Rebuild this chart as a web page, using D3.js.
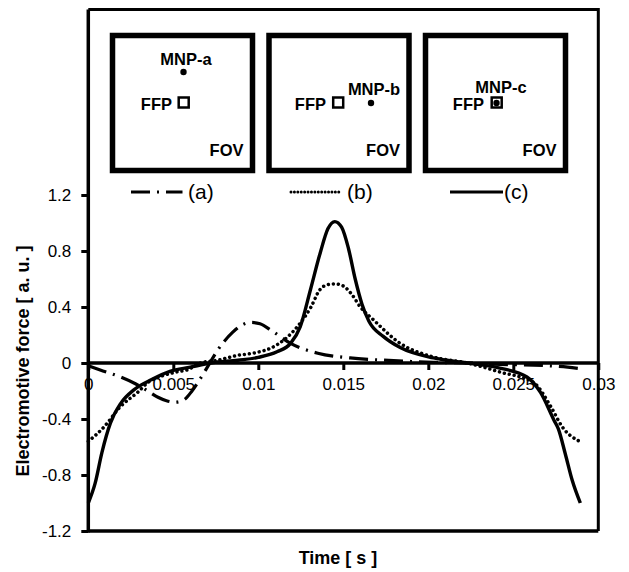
<!DOCTYPE html>
<html>
<head>
<meta charset="utf-8">
<script src="https://cdn.jsdelivr.net/npm/d3@7"></script>
<style>
  html, body { margin: 0; padding: 0; background: #fff; }
  svg { display: block; font-family: "Liberation Sans", Arial, sans-serif; }
</style>
</head>
<body>
<svg id="chart" width="629" height="572"></svg>
<script>
// Time samples [s] and electromotive force [a.u.] for the three MNP positions
const timeA = [0, 0.0007, 0.0019, 0.0028, 0.0035, 0.0041, 0.0046, 0.0051, 0.0056, 0.0061, 0.0066, 0.0071, 0.0076, 0.0085, 0.0091, 0.0096, 0.0101, 0.0108, 0.0119, 0.0135, 0.0154, 0.0174, 0.0203, 0.0223, 0.0242, 0.0262, 0.0282, 0.0289];
const emfA  = [-0.02, -0.05, -0.10, -0.15, -0.20, -0.245, -0.27, -0.28, -0.265, -0.20, -0.11, -0.01, 0.09, 0.22, 0.275, 0.29, 0.28, 0.23, 0.14, 0.07, 0.036, 0.02, 0.005, 0.0, -0.01, -0.015, -0.03, -0.04];

const timeB = [0, 0.0009, 0.0019, 0.0029, 0.0035, 0.0044, 0.0052, 0.0058, 0.0066, 0.0076, 0.0089, 0.0097, 0.0111, 0.0123, 0.0131, 0.0136, 0.0141, 0.01453, 0.0150, 0.0155, 0.0160, 0.01676, 0.01835, 0.0203, 0.0223, 0.0242, 0.0262, 0.0272, 0.0279, 0.0289];
const emfB  = [-0.56, -0.46, -0.31, -0.21, -0.14, -0.09, -0.064, -0.05, 0.0, 0.02, 0.057, 0.07, 0.13, 0.26, 0.40, 0.52, 0.56, 0.565, 0.55, 0.49, 0.40, 0.31, 0.14, 0.043, 0.0, -0.064, -0.14, -0.31, -0.46, -0.56];

const timeC = [0, 0.0004, 0.0008, 0.0013, 0.0019, 0.0027, 0.0037, 0.0048, 0.0060, 0.0072, 0.0088, 0.0100, 0.0111, 0.0119, 0.01247, 0.01306, 0.01365, 0.0141, 0.0145, 0.0149, 0.0153, 0.0157, 0.0161, 0.0165, 0.01735, 0.01835, 0.0203, 0.0223, 0.0242, 0.0258, 0.0266, 0.0274, 0.02765, 0.02806, 0.02847, 0.02894];
const emfC  = [-1.00, -0.86, -0.64, -0.43, -0.29, -0.19, -0.12, -0.06, -0.03, 0.0, 0.02, 0.04, 0.08, 0.14, 0.26, 0.52, 0.79, 0.96, 1.01, 0.97, 0.82, 0.60, 0.42, 0.30, 0.19, 0.11, 0.036, 0.0, -0.036, -0.10, -0.21, -0.41, -0.47, -0.65, -0.84, -1.00];

const xTicks = [0, 0.005, 0.01, 0.015, 0.02, 0.025, 0.03];
const xTickLabels = ["0", "0.005", "0.01", "0.015", "0.02", "0.025", "0.03"];
const yTicks = [-1.2, -0.8, -0.4, 0, 0.4, 0.8, 1.2];
const yTickLabels = ["-1.2", "-0.8", "-0.4", "0", "0.4", "0.8", "1.2"];

const legendLabels = ["(a)", "(b)", "(c)"];
const mnpLabels = ["MNP-a", "MNP-b", "MNP-c"];

const svg = d3.select("#chart");

const x = d3.scaleLinear().domain([0, 0.03]).range([88.3, 598.3]);
const y = d3.scaleLinear().domain([-1.2, 1.2]).range([531, 195]);

const frameTop = 9.5;

// plot frame (top and right edges)
svg.append("path")
  .attr("d", `M${x(0)},${frameTop}H${x(0.03)}V${y(-1.2)}`)
  .attr("fill", "none").attr("stroke", "#000").attr("stroke-width", 3);

// bottom edge
svg.append("line")
  .attr("x1", x(0)).attr("x2", x(0.03)).attr("y1", y(-1.2)).attr("y2", y(-1.2))
  .attr("stroke", "#000").attr("stroke-width", 3.5);

// y axis
const yAxis = svg.append("g").attr("transform", `translate(${x(0)},0)`)
  .call(d3.axisLeft(y).tickValues(yTicks).tickFormat((d, i) => yTickLabels[i]).tickSize(7).tickPadding(10));
yAxis.select(".domain").remove();
yAxis.append("line").attr("x1", 0).attr("x2", 0).attr("y1", frameTop).attr("y2", y(-1.2) + 1.5)
  .attr("stroke", "#000").attr("stroke-width", 3.5);
yAxis.selectAll(".tick line").attr("stroke", "#000").attr("stroke-width", 3);
yAxis.selectAll(".tick text").attr("font-size", 17).attr("fill", "#000")
  .attr("font-family", "Liberation Sans, Arial, sans-serif");

// x axis along zero
const xAxis = svg.append("g").attr("transform", `translate(0,${y(0)})`)
  .call(d3.axisBottom(x).tickValues(xTicks).tickFormat((d, i) => xTickLabels[i]).tickSize(7).tickPadding(8));
xAxis.select(".domain").remove();
xAxis.append("line").attr("x1", x(0)).attr("x2", x(0.03)).attr("y1", 0).attr("y2", 0)
  .attr("stroke", "#000").attr("stroke-width", 3.5);
xAxis.selectAll(".tick line").attr("stroke", "#000").attr("stroke-width", 3);
xAxis.selectAll(".tick text").attr("font-size", 17).attr("fill", "#000")
  .attr("font-family", "Liberation Sans, Arial, sans-serif");

// curves
const line = d3.line().x(d => x(d[0])).y(d => y(d[1])).curve(d3.curveMonotoneX);
const series = [
  { t: timeA, v: emfA, dash: "19,7,2,7", cap: "butt", w: 3.2 },
  { t: timeB, v: emfB, dash: "0.01,5", cap: "round", w: 3.5 },
  { t: timeC, v: emfC, dash: null, cap: "butt", w: 3.4 }
];
series.forEach(s => {
  svg.append("path")
    .datum(s.t.map((t, i) => [t, s.v[i]]))
    .attr("d", line)
    .attr("fill", "none").attr("stroke", "#000")
    .attr("stroke-width", s.w)
    .attr("stroke-linecap", s.cap)
    .attr("stroke-dasharray", s.dash);
});

// axis titles
svg.append("text").attr("x", 338).attr("y", 564).attr("text-anchor", "middle")
  .attr("font-size", 18).attr("font-weight", "bold").text("Time [ s ]");
svg.append("text").attr("transform", "translate(29,361) rotate(-90)").attr("text-anchor", "middle")
  .attr("font-size", 18).attr("font-weight", "bold").text("Electromotive force [ a. u. ]");

// field-of-view insets
const insets = [
  { x0: 112.5, mnp: mnpLabels[0], mnpX: 186, mnpY: 65, dot: [183.5, 72], ffpX: 172, sq: 177.5 },
  { x0: 269, mnp: mnpLabels[1], mnpX: 374, mnpY: 95, dot: [371, 103], ffpX: 326, sq: 332 },
  { x0: 425.5, mnp: mnpLabels[2], mnpX: 501, mnpY: 93, dot: [496.5, 103], ffpX: 484, sq: 490.5 }
];
const boxW = 140, boxTop = 35.5, boxH = 135;
insets.forEach(b => {
  const g = svg.append("g");
  g.append("rect").attr("x", b.x0).attr("y", boxTop).attr("width", boxW).attr("height", boxH)
    .attr("fill", "#fff").attr("stroke", "#000").attr("stroke-width", 5.5);
  g.append("text").attr("x", b.mnpX).attr("y", b.mnpY).attr("text-anchor", "middle")
    .attr("font-size", 16.5).attr("font-weight", "bold").text(b.mnp);
  g.append("text").attr("x", b.ffpX).attr("y", 110).attr("text-anchor", "end")
    .attr("font-size", 16.5).attr("font-weight", "bold").text("FFP");
  g.append("rect").attr("x", b.sq + 1.2).attr("y", 97.5).attr("width", 10).attr("height", 10)
    .attr("fill", "none").attr("stroke", "#000").attr("stroke-width", 2.5);
  g.append("circle").attr("cx", b.dot[0]).attr("cy", b.dot[1]).attr("r", 3.2).attr("fill", "#000");
  g.append("text").attr("x", b.x0 + boxW - 9).attr("y", 156).attr("text-anchor", "end")
    .attr("font-size", 16.5).attr("font-weight", "bold").text("FOV");
});

// legend
const legend = [
  { x1: 131, x2: 182.5, tx: 188, dash: "19,7,2,7", cap: "butt", w: 3 },
  { x1: 291, x2: 339.5, tx: 347, dash: "0.01,3.4", cap: "round", w: 3 },
  { x1: 450, x2: 503, tx: 504, dash: null, cap: "butt", w: 3.2 }
];
legend.forEach((l, i) => {
  svg.append("line").attr("x1", l.x1).attr("x2", l.x2).attr("y1", 192).attr("y2", 192)
    .attr("stroke", "#000").attr("stroke-width", l.w).attr("stroke-linecap", l.cap)
    .attr("stroke-dasharray", l.dash);
  svg.append("text").attr("x", l.tx).attr("y", 199).attr("font-size", 21).text(legendLabels[i]);
});
</script>
</body>
</html>
